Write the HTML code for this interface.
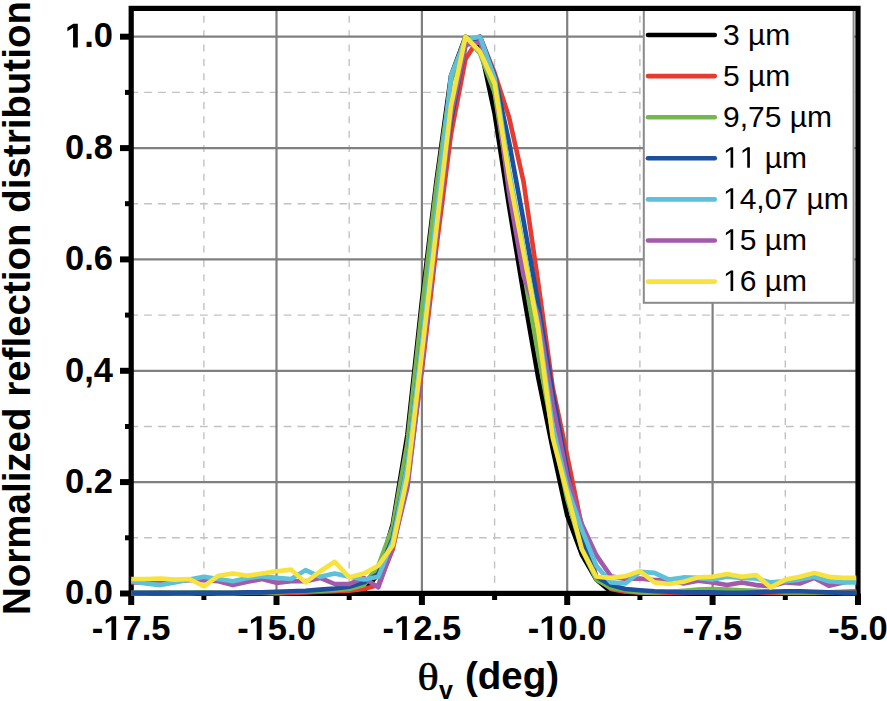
<!DOCTYPE html>
<html><head><meta charset="utf-8"><style>
html,body{margin:0;padding:0;background:#fff;}
body{width:887px;height:701px;overflow:hidden;}
svg{display:block;}
.mn{stroke:#c2c2c2;stroke-width:1.4;}
.mnv{stroke-dasharray:7 7.36;stroke-dashoffset:6.96;}
.mnh{stroke-dasharray:7.8 6.15;stroke-dashoffset:1;}
.mj{stroke:#808080;stroke-width:2.2;}
text{font-family:"Liberation Sans",sans-serif;fill:#000;}
.tk{font-size:34.5px;font-weight:bold;}
.ax{font-size:38.5px;font-weight:bold;}
.lg{font-size:30px;font-kerning:none;}
.one{fill:transparent;}
.th{font-family:"Liberation Serif",serif;font-size:37px;stroke:#000;stroke-width:0.6px;}
.sub{font-size:25px;font-weight:bold;}
</style></head><body>
<svg width="887" height="701" viewBox="0 0 887 701">
<defs><clipPath id="pc"><rect x="130.6" y="0" width="725.7" height="600"/></clipPath></defs>
<line x1="203.9" y1="8.4" x2="203.9" y2="593" class="mn mnv"/>
<line x1="349.2" y1="8.4" x2="349.2" y2="593" class="mn mnv"/>
<line x1="494.6" y1="8.4" x2="494.6" y2="593" class="mn mnv"/>
<line x1="639.9" y1="8.4" x2="639.9" y2="593" class="mn mnv"/>
<line x1="785.3" y1="8.4" x2="785.3" y2="593" class="mn mnv"/>
<line x1="131.2" y1="537.8" x2="858" y2="537.8" class="mn mnh"/>
<line x1="131.2" y1="426.5" x2="858" y2="426.5" class="mn mnh"/>
<line x1="131.2" y1="315.1" x2="858" y2="315.1" class="mn mnh"/>
<line x1="131.2" y1="203.7" x2="858" y2="203.7" class="mn mnh"/>
<line x1="131.2" y1="92.4" x2="858" y2="92.4" class="mn mnh"/>
<line x1="276.5" y1="8" x2="276.5" y2="593" class="mj"/>
<line x1="421.9" y1="8" x2="421.9" y2="593" class="mj"/>
<line x1="567.2" y1="8" x2="567.2" y2="593" class="mj"/>
<line x1="712.6" y1="8" x2="712.6" y2="593" class="mj"/>
<line x1="131" y1="482.1" x2="858" y2="482.1" class="mj"/>
<line x1="131" y1="370.8" x2="858" y2="370.8" class="mj"/>
<line x1="131" y1="259.4" x2="858" y2="259.4" class="mj"/>
<line x1="131" y1="148.1" x2="858" y2="148.1" class="mj"/>
<line x1="131" y1="36.7" x2="858" y2="36.7" class="mj"/>
<rect x="643.8" y="8.4" width="209.8" height="294.4" fill="#fff" stroke="#8a8a8a" stroke-width="2"/>
<rect x="131.2" y="8.4" width="726.8" height="585" fill="none" stroke="#000" stroke-width="5.2"/>
<line x1="131.2" y1="593.4" x2="131.2" y2="605" stroke="#000" stroke-width="6"/>
<line x1="276.5" y1="593.4" x2="276.5" y2="605" stroke="#000" stroke-width="6"/>
<line x1="421.9" y1="593.4" x2="421.9" y2="605" stroke="#000" stroke-width="6"/>
<line x1="567.2" y1="593.4" x2="567.2" y2="605" stroke="#000" stroke-width="6"/>
<line x1="712.6" y1="593.4" x2="712.6" y2="605" stroke="#000" stroke-width="6"/>
<line x1="858.0" y1="593.4" x2="858.0" y2="605" stroke="#000" stroke-width="6"/>
<line x1="203.9" y1="593.4" x2="203.9" y2="600" stroke="#000" stroke-width="5"/>
<line x1="349.2" y1="593.4" x2="349.2" y2="600" stroke="#000" stroke-width="5"/>
<line x1="494.6" y1="593.4" x2="494.6" y2="600" stroke="#000" stroke-width="5"/>
<line x1="639.9" y1="593.4" x2="639.9" y2="600" stroke="#000" stroke-width="5"/>
<line x1="785.3" y1="593.4" x2="785.3" y2="600" stroke="#000" stroke-width="5"/>
<line x1="120" y1="593.5" x2="131" y2="593.5" stroke="#000" stroke-width="6"/>
<line x1="120" y1="482.1" x2="131" y2="482.1" stroke="#000" stroke-width="6"/>
<line x1="120" y1="370.8" x2="131" y2="370.8" stroke="#000" stroke-width="6"/>
<line x1="120" y1="259.4" x2="131" y2="259.4" stroke="#000" stroke-width="6"/>
<line x1="120" y1="148.1" x2="131" y2="148.1" stroke="#000" stroke-width="6"/>
<line x1="120" y1="36.7" x2="131" y2="36.7" stroke="#000" stroke-width="6"/>
<line x1="125" y1="537.8" x2="131" y2="537.8" stroke="#000" stroke-width="5"/>
<line x1="125" y1="426.5" x2="131" y2="426.5" stroke="#000" stroke-width="5"/>
<line x1="125" y1="315.1" x2="131" y2="315.1" stroke="#000" stroke-width="5"/>
<line x1="125" y1="203.7" x2="131" y2="203.7" stroke="#000" stroke-width="5"/>
<line x1="125" y1="92.4" x2="131" y2="92.4" stroke="#000" stroke-width="5"/>
<polyline points="131.2,593.5 145.7,593.5 160.3,593.5 174.8,593.5 189.3,593.5 203.9,593.5 218.4,593.5 232.9,593.5 247.5,593.5 262.0,593.5 276.5,593.5 291.1,593.5 305.6,593.5 320.2,593.5 334.7,593.5 349.2,593.5 363.8,590.7 378.3,574.0 392.8,523.9 407.4,434.8 421.9,301.2 436.4,181.5 451.0,75.7 465.5,36.7 480.0,45.1 494.6,113.5 509.1,206.5 523.6,293.9 538.2,377.5 552.7,448.7 567.2,515.5 581.8,554.5 596.3,579.6 610.9,591.8 625.4,593.5 639.9,593.5 654.5,593.5 669.0,593.5 683.5,593.5 698.1,593.5 712.6,593.5 727.1,593.5 741.7,593.5 756.2,593.5 770.7,593.5 785.3,593.5 799.8,593.5 814.3,593.5 828.9,593.5 843.4,593.5 858.0,593.5" fill="none" stroke="#000000" stroke-width="4.6" stroke-linejoin="round" stroke-linecap="butt" clip-path="url(#pc)"/>
<polyline points="131.2,593.5 145.7,593.5 160.3,592.9 174.8,593.5 189.3,593.5 203.9,592.9 218.4,593.5 232.9,593.5 247.5,592.9 262.0,592.9 276.5,593.5 291.1,592.9 305.6,592.4 320.2,591.8 334.7,591.3 349.2,590.7 363.8,589.0 378.3,585.1 392.8,549.0 407.4,482.1 421.9,370.8 436.4,247.2 451.0,134.1 465.5,59.0 480.0,36.7 494.6,72.9 509.1,117.4 523.6,182.0 538.2,282.8 552.7,387.5 567.2,456.0 581.8,526.7 596.3,576.8 610.9,589.0 625.4,591.8 639.9,592.4 654.5,592.9 669.0,592.9 683.5,592.9 698.1,592.4 712.6,592.4 727.1,591.8 741.7,592.4 756.2,592.4 770.7,592.9 785.3,592.9 799.8,592.9 814.3,592.9 828.9,592.4 843.4,591.8 858.0,591.3" fill="none" stroke="#e63b2e" stroke-width="4.6" stroke-linejoin="round" stroke-linecap="butt" clip-path="url(#pc)"/>
<polyline points="131.2,592.9 145.7,592.9 160.3,592.9 174.8,592.9 189.3,592.9 203.9,592.4 218.4,592.9 232.9,592.9 247.5,592.4 262.0,592.4 276.5,592.4 291.1,591.8 305.6,591.3 320.2,590.7 334.7,590.2 349.2,589.0 363.8,585.1 378.3,565.7 392.8,526.7 407.4,443.2 421.9,309.5 436.4,187.0 451.0,81.2 465.5,36.7 480.0,53.4 494.6,92.4 509.1,184.3 523.6,270.6 538.2,354.1 552.7,432.0 567.2,498.8 581.8,549.0 596.3,579.6 610.9,587.9 625.4,590.2 639.9,592.4 654.5,592.4 669.0,591.8 683.5,590.7 698.1,589.6 712.6,589.0 727.1,589.6 741.7,590.2 756.2,590.7 770.7,591.8 785.3,592.4 799.8,592.4 814.3,592.4 828.9,592.4 843.4,592.9 858.0,592.9" fill="none" stroke="#74b74e" stroke-width="4.6" stroke-linejoin="round" stroke-linecap="butt" clip-path="url(#pc)"/>
<polyline points="131.2,592.9 145.7,592.9 160.3,592.9 174.8,592.9 189.3,592.7 203.9,592.9 218.4,592.9 232.9,592.7 247.5,592.4 262.0,592.4 276.5,591.8 291.1,591.3 305.6,590.7 320.2,589.6 334.7,588.5 349.2,586.8 363.8,582.4 378.3,574.0 392.8,537.8 407.4,465.4 421.9,342.9 436.4,226.0 451.0,120.2 465.5,45.1 480.0,36.7 494.6,75.7 509.1,142.5 523.6,221.0 538.2,304.0 552.7,393.1 567.2,471.0 581.8,537.8 596.3,576.8 610.9,585.1 625.4,589.0 639.9,590.2 654.5,591.3 669.0,591.8 683.5,592.4 698.1,592.4 712.6,592.4 727.1,592.9 741.7,592.9 756.2,592.4 770.7,591.8 785.3,591.3 799.8,591.3 814.3,591.8 828.9,592.4 843.4,592.9 858.0,592.9" fill="none" stroke="#1c4f9c" stroke-width="4.6" stroke-linejoin="round" stroke-linecap="butt" clip-path="url(#pc)"/>
<polyline points="131.2,582.4 145.7,582.4 160.3,581.3 174.8,581.3 189.3,580.1 203.9,580.1 218.4,581.3 232.9,585.1 247.5,581.8 262.0,579.0 276.5,582.9 291.1,581.3 305.6,581.3 320.2,577.9 334.7,584.0 349.2,584.0 363.8,577.9 378.3,587.4 392.8,546.2 407.4,487.7 421.9,365.2 436.4,237.1 451.0,114.7 465.5,45.1 480.0,42.3 494.6,81.2 509.1,192.6 523.6,276.1 538.2,315.1 552.7,404.2 567.2,476.6 581.8,523.9 596.3,555.1 610.9,576.2 625.4,579.0 639.9,578.5 654.5,580.1 669.0,580.1 683.5,583.5 698.1,580.7 712.6,582.4 727.1,585.1 741.7,582.4 756.2,585.1 770.7,586.3 785.3,582.4 799.8,583.5 814.3,577.9 828.9,585.7 843.4,582.4 858.0,579.6" fill="none" stroke="#a25aab" stroke-width="4.6" stroke-linejoin="round" stroke-linecap="butt" clip-path="url(#pc)"/>
<polyline points="131.2,581.3 145.7,583.5 160.3,585.1 174.8,582.4 189.3,579.6 203.9,576.8 218.4,579.0 232.9,581.3 247.5,577.9 262.0,576.2 276.5,577.9 291.1,579.0 305.6,570.1 320.2,576.8 334.7,573.5 349.2,576.8 363.8,579.6 378.3,576.8 392.8,540.6 407.4,465.4 421.9,342.9 436.4,214.9 451.0,75.7 465.5,39.5 480.0,36.7 494.6,77.9 509.1,170.3 523.6,248.3 538.2,326.2 552.7,426.5 567.2,487.7 581.8,529.5 596.3,565.7 610.9,582.4 625.4,583.5 639.9,571.8 654.5,572.9 669.0,579.6 683.5,577.4 698.1,577.9 712.6,579.6 727.1,576.8 741.7,577.9 756.2,578.5 770.7,582.4 785.3,581.3 799.8,579.6 814.3,576.8 828.9,581.3 843.4,582.4 858.0,582.4" fill="none" stroke="#5cc1d9" stroke-width="4.6" stroke-linejoin="round" stroke-linecap="butt" clip-path="url(#pc)"/>
<polyline points="131.2,579.0 145.7,579.0 160.3,578.5 174.8,579.6 189.3,579.0 203.9,586.3 218.4,575.7 232.9,573.5 247.5,575.7 262.0,573.5 276.5,571.2 291.1,569.6 305.6,582.4 320.2,571.2 334.7,561.8 349.2,577.4 363.8,573.5 378.3,565.7 392.8,545.1 407.4,476.6 421.9,353.0 436.4,228.8 451.0,105.7 465.5,36.7 480.0,51.7 494.6,83.5 509.1,176.5 523.6,252.7 538.2,329.0 552.7,437.6 567.2,493.3 581.8,549.0 596.3,576.8 610.9,577.9 625.4,576.2 639.9,571.2 654.5,582.4 669.0,584.0 683.5,581.8 698.1,577.4 712.6,576.8 727.1,574.0 741.7,576.8 756.2,575.1 770.7,587.4 785.3,579.6 799.8,576.8 814.3,572.9 828.9,576.8 843.4,577.9 858.0,577.9" fill="none" stroke="#f8e23c" stroke-width="4.6" stroke-linejoin="round" stroke-linecap="butt" clip-path="url(#pc)"/>
<line x1="648" y1="35.0" x2="714.8" y2="35.0" stroke="#000000" stroke-width="4.6" stroke-linecap="round"/>
<text x="723" y="44.5" class="lg">3 µm</text>
<line x1="648" y1="76.1" x2="714.8" y2="76.1" stroke="#e63b2e" stroke-width="4.6" stroke-linecap="round"/>
<text x="723" y="85.6" class="lg">5 µm</text>
<line x1="648" y1="117.2" x2="714.8" y2="117.2" stroke="#74b74e" stroke-width="4.6" stroke-linecap="round"/>
<text x="723" y="126.7" class="lg">9,75 µm</text>
<line x1="648" y1="158.3" x2="714.8" y2="158.3" stroke="#1c4f9c" stroke-width="4.6" stroke-linecap="round"/>
<text x="723" y="167.8" class="lg"><tspan class="one">1</tspan><tspan class="one">1</tspan> µm</text>
<line x1="648" y1="199.4" x2="714.8" y2="199.4" stroke="#5cc1d9" stroke-width="4.6" stroke-linecap="round"/>
<text x="723" y="208.9" class="lg"><tspan class="one">1</tspan>4,07 µm</text>
<line x1="648" y1="240.5" x2="714.8" y2="240.5" stroke="#a25aab" stroke-width="4.6" stroke-linecap="round"/>
<text x="723" y="250.0" class="lg"><tspan class="one">1</tspan>5 µm</text>
<line x1="648" y1="281.6" x2="714.8" y2="281.6" stroke="#f8e23c" stroke-width="4.6" stroke-linecap="round"/>
<text x="723" y="291.1" class="lg"><tspan class="one">1</tspan>6 µm</text>
<text x="131.2" y="640" class="tk" text-anchor="middle">-<tspan class="one">1</tspan>7.5</text>
<text x="276.5" y="640" class="tk" text-anchor="middle">-<tspan class="one">1</tspan>5.0</text>
<text x="421.9" y="640" class="tk" text-anchor="middle">-<tspan class="one">1</tspan>2.5</text>
<text x="567.2" y="640" class="tk" text-anchor="middle">-<tspan class="one">1</tspan>0.0</text>
<text x="712.6" y="640" class="tk" text-anchor="middle">-7.5</text>
<text x="858.0" y="640" class="tk" text-anchor="middle">-5.0</text>
<text x="113" y="604.2" class="tk" text-anchor="end">0.0</text>
<text x="113" y="492.8" class="tk" text-anchor="end">0.2</text>
<text x="113" y="381.5" class="tk" text-anchor="end">0,4</text>
<text x="113" y="270.1" class="tk" text-anchor="end">0.6</text>
<text x="113" y="158.8" class="tk" text-anchor="end">0.8</text>
<text x="113" y="47.4" class="tk" text-anchor="end"><tspan class="one">1</tspan>.0</text>
<text transform="translate(417.6,689.5) scale(1.2,1.03)" class="th">θ</text>
<text x="439" y="699" class="sub">v</text>
<text x="465" y="689" class="ax">(deg)</text>
<text transform="translate(29.5,615) rotate(-90)" class="ax" x="0" y="0">Normalized reflection distribution</text>
<path d="M730.54,167.80 L730.54,149.68 L725.89,153.01 L725.89,150.51 L730.76,147.16 L733.20,147.16 L733.20,167.80Z M747.23,167.80 L747.23,149.68 L742.57,153.01 L742.57,150.51 L747.45,147.16 L749.88,147.16 L749.88,167.80Z M730.54,208.90 L730.54,190.78 L725.89,194.11 L725.89,191.61 L730.76,188.26 L733.20,188.26 L733.20,208.90Z M730.54,250.00 L730.54,231.88 L725.89,235.21 L725.89,232.71 L730.76,229.36 L733.20,229.36 L733.20,250.00Z M730.54,291.10 L730.54,272.98 L725.89,276.31 L725.89,273.81 L730.76,270.46 L733.20,270.46 L733.20,291.10Z M111.42,640.00 L111.42,620.29 L105.73,623.84 L105.73,620.12 L111.68,616.26 L116.16,616.26 L116.16,640.00Z M256.72,640.00 L256.72,620.29 L251.03,623.84 L251.03,620.12 L256.98,616.26 L261.46,616.26 L261.46,640.00Z M402.12,640.00 L402.12,620.29 L396.43,623.84 L396.43,620.12 L402.38,616.26 L406.86,616.26 L406.86,640.00Z M547.42,640.00 L547.42,620.29 L541.73,623.84 L541.73,620.12 L547.68,616.26 L552.16,616.26 L552.16,640.00Z M73.08,47.40 L73.08,27.69 L67.39,31.24 L67.39,27.52 L73.34,23.66 L77.82,23.66 L77.82,47.40Z" fill="#000"/>
</svg>
</body></html>
